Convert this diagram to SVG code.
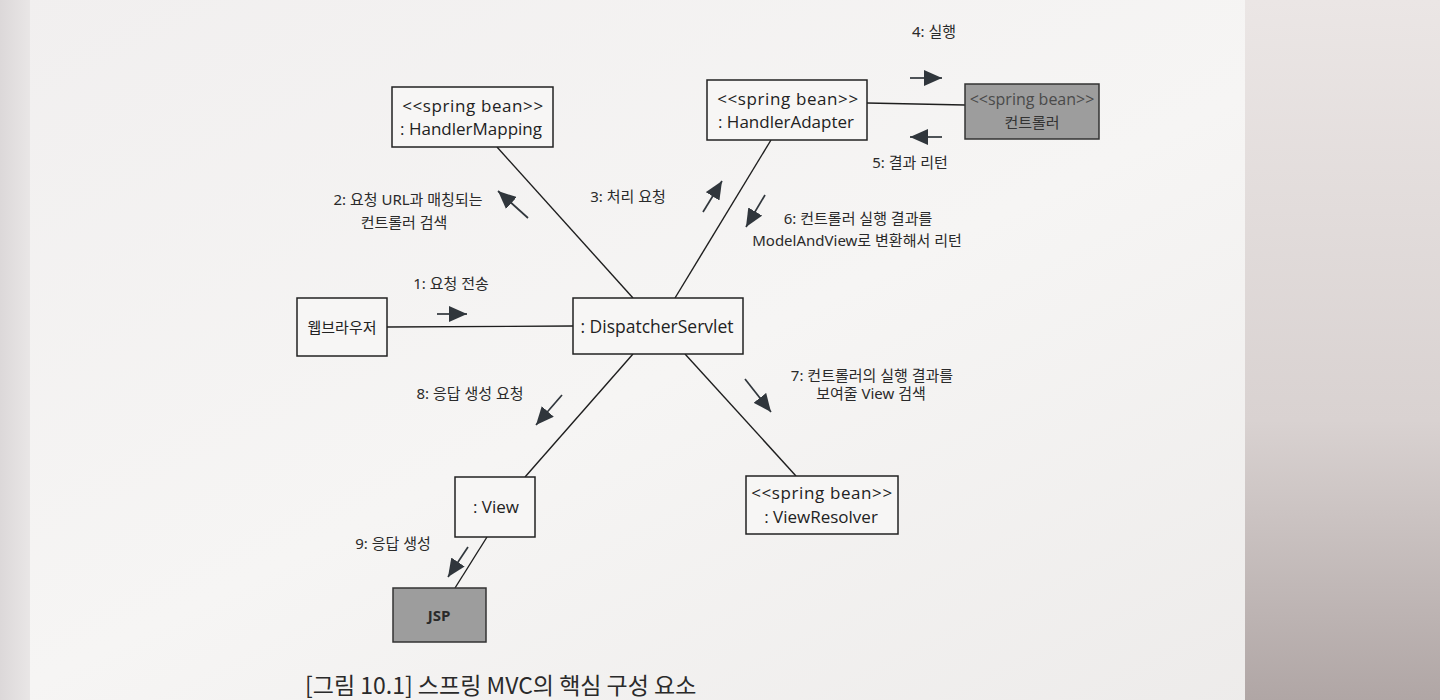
<svg xmlns="http://www.w3.org/2000/svg" width="1440" height="700" viewBox="0 0 1440 700">
<defs>
<linearGradient id="page" x1="0" y1="0" x2="1" y2="1">
<stop offset="0" stop-color="#f1efef"/>
<stop offset="0.5" stop-color="#f6f5f4"/>
<stop offset="1" stop-color="#eceae9"/>
</linearGradient>
<linearGradient id="rightpage" x1="0" y1="0" x2="0" y2="1">
<stop offset="0" stop-color="#ebe6e5"/>
<stop offset="0.6" stop-color="#d9d2d1"/>
<stop offset="1" stop-color="#b0a6a5"/>
</linearGradient>
<linearGradient id="leftedge" x1="0" y1="0" x2="1" y2="0">
<stop offset="0" stop-color="#dcd8d9"/>
<stop offset="1" stop-color="#e9e6e6"/>
</linearGradient>
<marker id="ah" viewBox="0 0 18 16" refX="18" refY="8" markerWidth="18" markerHeight="16" orient="auto" markerUnits="userSpaceOnUse">
<path d="M0,0 L18,8 L0,16 z" fill="#30363c"/>
</marker>
<style>
.box{fill:#f7f6f5;stroke:#222;stroke-width:1.5}
.gbox{fill:#9d9d9d;stroke:#333;stroke-width:1.5}
.conn{stroke:#1e1e1e;stroke-width:1.4;fill:none}
.arr{stroke:#30363c;stroke-width:1.7;fill:none;marker-end:url(#ah)}
.bt{font-family:"Open Sans","Noto Sans","Noto Sans CJK KR",sans-serif;font-size:17px;fill:#222;text-anchor:middle}
.st{letter-spacing:0.6px}
.lb{font-family:"Noto Sans","Noto Sans CJK KR",sans-serif;font-size:15px;fill:#2a2a2a;text-anchor:middle}
</style>
</defs>
<rect x="0" y="0" width="1440" height="700" fill="url(#page)"/>
<rect x="0" y="0" width="30" height="700" fill="url(#leftedge)"/>
<rect x="1245" y="0" width="195" height="700" fill="url(#rightpage)"/>

<g id="connectors">
<line class="conn" x1="387" y1="327" x2="573" y2="326"/>
<line class="conn" x1="497" y1="147" x2="633" y2="298"/>
<line class="conn" x1="771" y1="140" x2="675" y2="298"/>
<line class="conn" x1="867" y1="103" x2="965" y2="105"/>
<line class="conn" x1="633" y1="354" x2="525" y2="477"/>
<line class="conn" x1="685" y1="354" x2="796" y2="476"/>
<line class="conn" x1="487" y1="537" x2="455" y2="588"/>
<line class="arr" x1="437" y1="314" x2="467" y2="314"/>
<line class="arr" x1="528" y1="218" x2="498" y2="191"/>
<line class="arr" x1="703" y1="212" x2="722" y2="181"/>
<line class="arr" x1="910" y1="78" x2="942" y2="78"/>
<line class="arr" x1="942" y1="137" x2="910" y2="137"/>
<line class="arr" x1="765" y1="195" x2="746" y2="227"/>
<line class="arr" x1="745" y1="379" x2="771" y2="412"/>
<line class="arr" x1="562" y1="395" x2="536" y2="425"/>
<line class="arr" x1="468" y1="547" x2="448" y2="577"/>
</g>

<g id="handlerMapping">
<rect class="box" x="392" y="87" width="161" height="60"/>
<text class="bt st" x="473" y="112">&lt;&lt;spring bean&gt;&gt;</text>
<text class="bt" x="471" y="135">: HandlerMapping</text>
</g>
<g id="handlerAdapter">
<rect class="box" x="707" y="80" width="160" height="60"/>
<text class="bt st" x="788" y="105">&lt;&lt;spring bean&gt;&gt;</text>
<text class="bt" x="786" y="128">: HandlerAdapter</text>
</g>
<g id="controller">
<rect class="gbox" x="965" y="84" width="134" height="55"/>
<text class="bt" x="1032" y="105" style="font-size:16px;fill:#4a4a4a">&lt;&lt;spring bean&gt;&gt;</text>
<text class="bt" x="1032" y="128" style="font-size:15px;fill:#333">컨트롤러</text>
</g>
<g id="webBrowser">
<rect class="box" x="297" y="298" width="90" height="58"/>
<text class="bt" x="342" y="333" style="font-size:15px">웹브라우저</text>
</g>
<g id="dispatcherServlet">
<rect class="box" x="573" y="298" width="170" height="56"/>
<text class="bt" x="657" y="333" style="font-size:17.5px">: DispatcherServlet</text>
</g>
<g id="view">
<rect class="box" x="455" y="477" width="80" height="60"/>
<text class="bt" x="496" y="513">: View</text>
</g>
<g id="viewResolver">
<rect class="box" x="746" y="476" width="152" height="58"/>
<text class="bt st" x="822" y="499">&lt;&lt;spring bean&gt;&gt;</text>
<text class="bt" x="821" y="523">: ViewResolver</text>
</g>
<g id="jsp">
<rect class="gbox" x="393" y="588" width="93" height="54"/>
<text class="bt" x="439" y="621" style="font-size:15px;font-weight:bold;fill:#2a2a2a">JSP</text>
</g>

<g id="labels">
<text class="lb" x="934" y="37">4: 실행</text>
<text class="lb" x="910" y="168">5: 결과 리턴</text>
<text class="lb" x="408" y="205">2: 요청 URL과 매칭되는</text>
<text class="lb" x="404" y="228">컨트롤러 검색</text>
<text class="lb" x="628" y="202">3: 처리 요청</text>
<text class="lb" x="858" y="224">6: 컨트롤러 실행 결과를</text>
<text class="lb" x="857" y="246">ModelAndView로 변환해서 리턴</text>
<text class="lb" x="451" y="289">1: 요청 전송</text>
<text class="lb" x="470" y="399">8: 응답 생성 요청</text>
<text class="lb" x="872" y="381">7: 컨트롤러의 실행 결과를</text>
<text class="lb" x="871" y="399">보여줄 View 검색</text>
<text class="lb" x="393" y="549">9: 응답 생성</text>
</g>
<text x="305" y="694" style="font-family:'Noto Sans CJK KR','Noto Sans',sans-serif;font-size:23px;fill:#2a2a2a">[그림 10.1] 스프링 MVC의 핵심 구성 요소</text>
</svg>
